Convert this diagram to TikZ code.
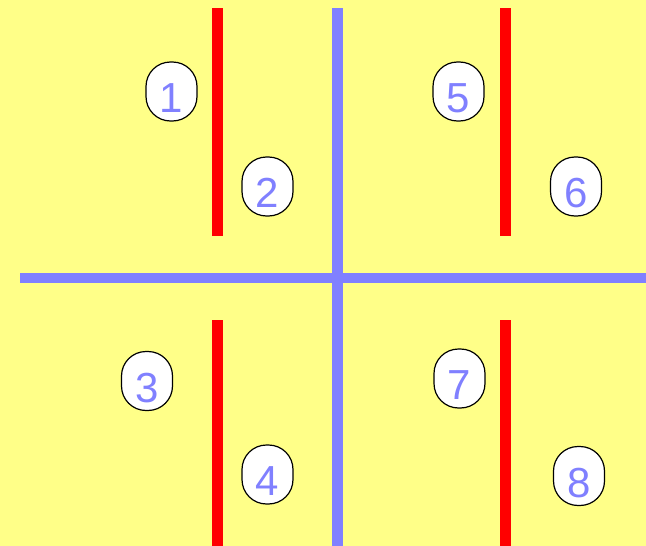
\documentclass[tikz,border=0pt]{standalone}
\usepackage{fontspec}
\setmainfont{Liberation Sans}
\definecolor{bgyellow}{RGB}{255,255,136}
\definecolor{lineblue}{RGB}{128,128,255}
\definecolor{linered}{RGB}{255,0,0}
\begin{document}
\begin{tikzpicture}[x=1pt,y=-1pt,
  numbox/.style={draw=black,line width=1.2pt,fill=white,rectangle,rounded corners=24.5pt,
    minimum width=51pt,minimum height=59pt,inner sep=0pt,text=lineblue,
    font=\fontsize{42}{42}\selectfont,text height=42pt,text depth=0pt},
  bluebar/.style={draw=lineblue,line width=10.5pt},
  redbar/.style={draw=linered,line width=11pt}]
\fill[bgyellow] (0,0) rectangle (646,546);
\useasboundingbox (0,0) rectangle (646,546);
% blue cross
\coordinate (vt) at (337.5,8);
\coordinate (vb) at (337.5,546);
\coordinate (hl) at (20,278);
\coordinate (hr) at (646,278);
\draw[bluebar] (vt) -- (vb);
\draw[bluebar] (hl) -- (hr);
% red bars
\coordinate (r1t) at (217.5,8);
\coordinate (r1b) at (217.5,236);
\coordinate (r2t) at (505.5,8);
\coordinate (r2b) at (505.5,236);
\coordinate (r3t) at (217.5,320);
\coordinate (r3b) at (217.5,546);
\coordinate (r4t) at (505.5,320);
\coordinate (r4b) at (505.5,546);
\draw[redbar] (r1t) -- (r1b);
\draw[redbar] (r2t) -- (r2b);
\draw[redbar] (r3t) -- (r3b);
\draw[redbar] (r4t) -- (r4b);
% number boxes
\node[numbox] (n1) at (171.5,91.5) {1};
\node[numbox] (n2) at (267.5,186.5) {2};
\node[numbox] (n3) at (147,381) {3};
\node[numbox] (n4) at (267.5,474.5) {4};
\node[numbox] (n5) at (458.5,91.5) {5};
\node[numbox] (n6) at (576,186.5) {6};
\node[numbox] (n7) at (459.5,378.5) {7};
\node[numbox] (n8) at (579,476) {8};
\end{tikzpicture}
\end{document}
